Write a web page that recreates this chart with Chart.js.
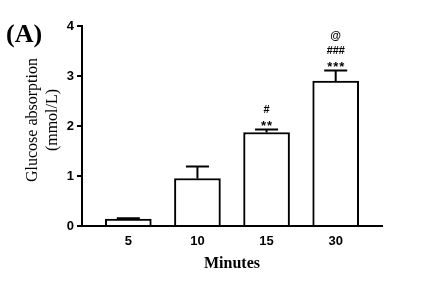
<!DOCTYPE html>
<html>
<head>
<meta charset="utf-8">
<script src="https://cdn.jsdelivr.net/npm/chart.js@4.4.1/dist/chart.umd.min.js"></script>
<style>
    html, body { margin: 0; padding: 0; background: #fff; }
    #wrap { width: 431px; height: 286px; position: relative; }
</style>
</head>
<body>
<div id="wrap"><canvas id="absorptionChart"></canvas></div>
<script>
// Glucose absorption per time point
const minutes = ['5', '10', '15', '30'];
const means = [0.14, 0.95, 1.87, 2.90];
const errors = [0.015, 0.24, 0.06, 0.21];
const marks = [[], [], ['**', '#'], ['***', '###', '@']];
const yTicks = [0, 1, 2, 3, 4];

// error bars, only the upper half with a cap
const errorBars = {
    id: 'errorBars',
    afterDatasetsDraw(chart) {
        const { ctx, scales: { x, y } } = chart;
        ctx.save();
        ctx.strokeStyle = '#000';
        ctx.lineWidth = 2;
        means.forEach((m, i) => {
            const px = x.getPixelForValue(i);
            const top = y.getPixelForValue(m + errors[i]);
            const base = y.getPixelForValue(m);
            ctx.beginPath();
            ctx.moveTo(px, base);
            ctx.lineTo(px, top);
            ctx.moveTo(px - 11.5, top);
            ctx.lineTo(px + 11.5, top);
            ctx.stroke();

            // significance marks stacked above the cap, chars spaced like the original
            ctx.fillStyle = '#000';
            ctx.font = 'bold 11px "Liberation Sans", Arial, sans-serif';
            ctx.textAlign = 'center';
            ctx.textBaseline = 'alphabetic';
            marks[i].forEach((t, k) => {
                const chars = t.split('');
                const step = 6;
                const start = px - (chars.length - 1) * step / 2;
                const by = top - 1.5 - k * 15;
                chars.forEach((c, j) => {
                    if (c === '*') {
                        ctx.save();
                        ctx.font = 'bold 13px "Liberation Sans", Arial, sans-serif';
                        ctx.fillText(c, start + j * step, by + 2);
                        ctx.restore();
                    } else {
                        ctx.fillText(c, start + j * step, by);
                    }
                });
            });
        });
        ctx.restore();
    }
};

// panel letter and y title
const extraText = {
    id: 'extraText',
    afterDraw(chart) {
        const { ctx } = chart;
        ctx.save();
        ctx.fillStyle = '#000';
        ctx.font = 'bold 26px "Liberation Serif", "Times New Roman", serif';
        ctx.textAlign = 'left';
        ctx.textBaseline = 'alphabetic';
        ctx.fillText('(A)', 6, 42);

        ctx.font = '16px "Liberation Serif", "Times New Roman", serif';
        ctx.textAlign = 'center';
        ctx.textBaseline = 'middle';
        ctx.translate(0, 120);
        ctx.rotate(-Math.PI / 2);
        ctx.fillText('Glucose absorption', 0, 33);
        ctx.fillText('(mmol/L)', 0, 53);
        ctx.restore();
    }
};

new Chart(document.getElementById('absorptionChart'), {
    type: 'bar',
    data: {
        datasets: [{
            data: means.map((v, i) => ({ x: i, y: v })),
            backgroundColor: '#fff',
            borderColor: '#000',
            borderWidth: 2,
            barThickness: 46
        }]
    },
    options: {
        responsive: true,
        maintainAspectRatio: false,
        animation: false,
        layout: { padding: { left: 0, right: 49, top: 26, bottom: 0 } },
        plugins: {
            legend: { display: false },
            tooltip: { enabled: false }
        },
        scales: {
            x: {
                type: 'linear',
                min: -0.67,
                max: 3.67,
                offset: false,
                grid: { display: false, drawTicks: false, tickLength: 0 },
                border: { display: true, color: '#000', width: 2 },
                afterBuildTicks: (s) => { s.ticks = minutes.map((m, i) => ({ value: i })); },
                afterFit: (s) => { s.height = 60; },
                ticks: {
                    color: '#000',
                    padding: 8,
                    maxRotation: 0,
                    font: { family: '"Liberation Sans", Arial, sans-serif', size: 13, weight: 'bold' },
                    callback: (v) => minutes[v]
                },
                title: {
                    display: true,
                    text: 'Minutes',
                    color: '#000',
                    padding: { top: 0, bottom: 13 },
                    font: { family: '"Liberation Serif", "Times New Roman", serif', size: 16, weight: 'bold', lineHeight: 1.2 }
                }
            },
            y: {
                min: 0,
                max: 4,
                afterBuildTicks: (s) => { s.ticks = yTicks.map(v => ({ value: v })); },
                afterFit: (s) => { s.width = 82; },
                grid: {
                    display: true,
                    drawOnChartArea: false,
                    drawTicks: true,
                    tickLength: 5,
                    color: '#000',
                    lineWidth: 2
                },
                border: { display: true, color: '#000', width: 2 },
                ticks: {
                    color: '#000',
                    padding: 3,
                    font: { family: '"Liberation Sans", Arial, sans-serif', size: 13, weight: 'bold' }
                }
            }
        }
    },
    plugins: [errorBars, extraText]
});
</script>
</body>
</html>
